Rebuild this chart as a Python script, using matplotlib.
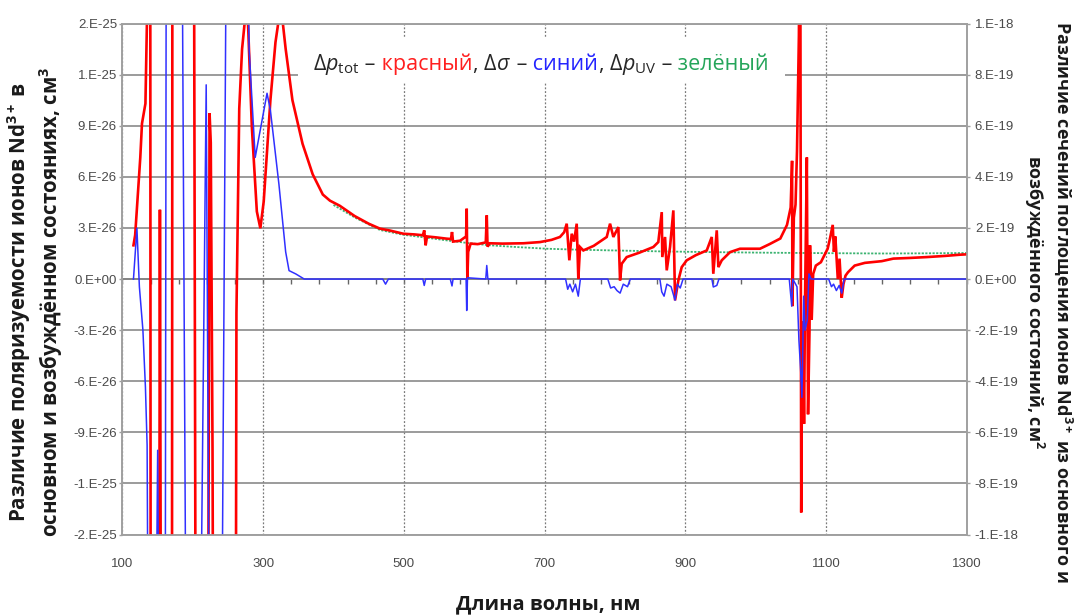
import numpy as np
import matplotlib
matplotlib.use("Agg")
import matplotlib.pyplot as plt
from matplotlib.offsetbox import TextArea, HPacker, AnnotationBbox
from matplotlib.patches import Rectangle

# ---------------- data ----------------
# red: total polarizability difference, units 1e-26 cm^3 (left axis)
red_wl = [115.6, 118, 121.5, 125.3, 127.7, 132.6, 134.8, 136.5, 139, 140.5, 149, 152.5, 153.2, 154.2,
          156.2, 169.8, 171.5, 199.5, 206, 219.5, 223.8, 225.5, 228, 231.5, 259.5, 262, 266, 270,
          274.3, 278.2, 283.9, 291, 296, 300.8, 305.5, 310.3, 317.5, 322.4, 327.2, 332, 341.6, 356,
          370.4, 384.8, 395, 409, 430, 450, 466, 480, 499.3, 515, 527, 529, 531, 533, 545, 561, 567,
          568.5, 570, 580, 588.5, 589.4, 590.3, 591.5, 595, 605, 616.5, 617.9, 619, 622, 640, 670,
          693.6, 710, 722, 728, 731.6, 735.3, 738.7, 742, 745.8, 748.1, 750.5, 755.2, 770, 788.5,
          793.2, 797.9, 805, 807.4, 809.8, 816.9, 835, 854.7, 861.8, 866.7, 867.5, 871.4, 873.8,
          878.5, 883.2, 885.6, 890.3, 895.1, 902.2, 915, 930.7, 937.8, 940, 944.9, 947.2, 952, 963.8,
          978, 1006.4, 1020, 1035.3, 1044.8, 1050, 1052, 1052.5, 1054.5, 1056.9, 1059, 1061.7,
          1063.5, 1065, 1066, 1067.5, 1069, 1070.5, 1073, 1074.7, 1076.8, 1077.5, 1079.9, 1082,
          1085.8, 1093, 1102.6, 1106, 1109.8, 1111.5, 1113.5, 1117, 1119.5, 1122.6, 1125, 1128,
          1131.5, 1141, 1155.5, 1179.5, 1196, 1220, 1243.5, 1270, 1291, 1300]
red_val = [1.98, 2.58, 4.8, 7.14, 9.13, 10.3, 15.2, 60, 60, -60, -60, -14, 4.07, -14,
           -60, -60, 60, 60, -60, -60, 9.73, 8.0, -10, -60, -60, -2, 10, 13.5,
           15.3, 15.3, 8.93, 3.97, 2.98, 4.56, 7.54, 10.5, 13.9, 15.3, 15.3, 13.5, 10.5, 7.94,
           6.15, 4.96, 4.6, 4.3, 3.7, 3.25, 2.96, 2.85, 2.66, 2.62, 2.57, 2.86, 1.98, 2.5, 2.45, 2.37, 2.35,
           2.76, 2.2, 2.25, 2.5, 4.13, 0.0, 1.6, 2.08, 2.05, 2.15, 3.74, 1.9, 2.1, 2.08, 2.1,
           2.17, 2.3, 2.47, 2.75, 3.25, 1.1, 2.66, 2.2, 3.25, 0.0, 1.88, 1.68, 1.95, 2.47,
           3.25, 2.47, 3.05, -0.08, 0.9, 1.29, 1.55, 1.88, 2.17, 3.93, 1.29, 2.47, 0.51,
           1.88, 4.03, -1.25, -0.08, 0.7, 1.1, 1.4, 1.68, 2.47, 0.31, 2.86, 0.7, 1.1, 1.58,
           1.78, 1.78, 2.05, 2.38, 3.18, 4.2, 6.94, -1.59, 3.6, 4.37, 7.5, 14.3,
           25, -13.7, -6.35, -2.5, -8.5, -1.0, 7.14, -7.94, -2.98, 1.98, -2.38, 0.3,
           0.79, 0.99, 1.78, 2.4, 3.18, 1.6, 2.5, 0.0, 1.2, -1.1, -0.3, 0.2,
           0.4, 0.79, 0.95, 1.05, 1.2, 1.24, 1.29, 1.36, 1.43, 1.45]

# green: UV contribution, units 1e-26 cm^3 (left axis)
green_wl = [400, 430, 466, 499.3, 528, 561, 590, 622.6, 660, 703, 750, 798, 870, 940, 1006,
            1100, 1180, 1240, 1300]
green_val = [4.35, 3.62, 2.88, 2.6, 2.45, 2.27, 2.12, 1.98, 1.88, 1.78, 1.72, 1.68, 1.62, 1.58,
             1.55, 1.52, 1.5, 1.51, 1.53]

# blue: absorption cross-section difference, units 1e-19 cm^2 (right axis)
blue_wl = [115.6, 120.5, 124, 129, 132.6, 135, 137.3, 146, 150, 153, 160.5, 162.5, 183.5, 191.3,
           209, 219, 224.4, 240, 249, 274.3, 280, 288.7, 297, 305.5, 310.3, 322.4, 332, 336.8,
           346.4, 358.4, 470, 474, 478, 527, 529, 531, 566, 568.5, 570, 588.5, 589.4, 590.5,
           616.5, 617.9, 619.5, 730, 733, 736, 740, 744, 748, 751, 790, 794, 799, 803, 807.5,
           812, 818, 822, 864, 866.7, 870, 874, 880, 885.6, 889, 893, 897, 938, 940, 945, 948,
           1048, 1051.5, 1053, 1059, 1061.7, 1064.2, 1066, 1068.5, 1070.5, 1073.7, 1076, 1079,
           1104, 1108, 1111, 1115, 1119, 1122.6, 1126, 1300]
blue_val = [0.0, 1.99, -0.3, -1.99, -4.23, -6.5, -20, -20, -6.7, -20, -20, 20, 20, -20,
            -20, 7.6, -20, -20, 20, 20, 9.0, 4.76, 6.0, 7.27, 6.6, 3.71, 1.06, 0.33,
            0.2, 0.0, 0.0, -0.2, 0.0, 0.0, -0.25, 0.0, 0.0, -0.27, 0.0, 0.0, -1.23, 0.05,
            0.0, 0.53, 0.0, 0.0, -0.4, -0.2, -0.5, -0.2, -0.67, 0.0, 0.0, -0.35, -0.3, -0.45, -0.55,
            -0.2, -0.3, 0.0, 0.0, -0.5, -0.67, -0.2, -0.3, -0.83, -0.2, -0.35, 0.0, 0.0, -0.31, -0.25, 0.0,
            0.0, -1.06, 0.0, -0.3, -2.38, -3.57, -4.63, -0.67, -2.0, -1.59, 0.2, 0.0,
            0.0, -0.3, -0.2, -0.45, -0.25, -0.55, 0.0, 0.0]

left_ticks = [-15e-26, -12e-26, -9e-26, -6e-26, -3e-26, 0, 3e-26, 6e-26, 9e-26, 12e-26, 15e-26]
left_tick_labels = ["-2.E-25", "-1.E-25", "-9.E-26", "-6.E-26", "-3.E-26", "0.E+00",
                    "3.E-26", "6.E-26", "9.E-26", "1.E-25", "2.E-25"]
right_ticks = [-10e-19, -8e-19, -6e-19, -4e-19, -2e-19, 0, 2e-19, 4e-19, 6e-19, 8e-19, 10e-19]
right_tick_labels = ["-1.E-18", "-8.E-19", "-6.E-19", "-4.E-19", "-2.E-19", "0.E+00",
                     "2.E-19", "4.E-19", "6.E-19", "8.E-19", "1.E-18"]
x_ticks = [100, 300, 500, 700, 900, 1100, 1300]
x_tick_labels = ["100", "300", "500", "700", "900", "1100", "1300"]

title_parts = [
    (r"$\mathit{Δp}_{\mathrm{tot}}$", "#262626"),
    (" –", "#262626"),
    (" красный", "#ff1f1f"),
    (",", "#262626"),
    (r" $\mathit{Δσ}$", "#262626"),
    (" –", "#262626"),
    (" синий", "#2424ff"),
    (",", "#262626"),
    (r" $\mathit{Δp}_{\mathrm{UV}}$", "#262626"),
    (" –", "#262626"),
    (" зелёный", "#25a55a"),
]

# ---------------- style ----------------
plt.rcParams['mathtext.fontset'] = 'custom'
plt.rcParams['mathtext.rm'] = 'Open Sans'
plt.rcParams['mathtext.it'] = 'Open Sans:italic'
plt.rcParams['mathtext.bf'] = 'Open Sans:bold'
plt.rcParams['mathtext.default'] = 'regular'

tick_family = ['Liberation Sans Narrow', 'Liberation Sans', 'DejaVu Sans']
grid_col = '#8a8a8a'
spine_col = '#a0a0a0'
tick_col = '#4a4a4a'

fig = plt.figure(figsize=(10.79, 6.16), dpi=100)
ax = fig.add_axes([0.11353, 0.13214, 0.78221, 0.82971])
ax2 = ax.twinx()

ax.set_xlim(100, 1300)
ax.set_ylim(-1.5e-25, 1.5e-25)
ax2.set_ylim(-1e-18, 1e-18)

# grid
ax.set_axisbelow(True)
ax.yaxis.grid(True, color=grid_col, lw=1.2)
ax.xaxis.grid(True, color='#7a7a7a', lw=0.9, linestyle=(0, (1.5, 1.5)))

# white box behind title
ax.add_patch(Rectangle((0.208, 0.8836), 0.577, 0.09, transform=ax.transAxes,
                       facecolor='white', edgecolor='none', zorder=2.2))

# data
ax.plot(green_wl, np.array(green_val) * 1e-26, color='#3cb371', lw=1.3,
        linestyle=(0, (1.2, 0.8)), zorder=2.4)
ax.plot(red_wl, np.array(red_val) * 1e-26, color='#ff0000', lw=1.9, zorder=2.6,
        solid_joinstyle='miter')
ax2.plot(blue_wl, np.array(blue_val) * 1e-19, color='#3030ff', lw=1.1, zorder=2.5)

# ticks
ax.set_xticks(x_ticks, labels=x_tick_labels)
ax.set_yticks(left_ticks, labels=left_tick_labels)
ax2.set_yticks(right_ticks, labels=right_tick_labels)
ax.tick_params(axis='x', length=0, pad=17, labelsize=9.5, labelcolor=tick_col,
               labelfontfamily=tick_family)
ax.tick_params(axis='y', length=2.5, width=1, color=spine_col, pad=1.5, labelsize=9.5,
               labelcolor=tick_col, labelfontfamily=tick_family)
ax2.tick_params(axis='y', length=2.5, width=1, color=spine_col, pad=3.5, labelsize=9.5,
                labelcolor=tick_col, labelfontfamily=tick_family)

for a in (ax, ax2):
    for s in a.spines.values():
        s.set_color(spine_col)
        s.set_linewidth(1.2)

# zero-line axis with small ticks
sec = ax.secondary_xaxis(0.5)
sec.set_alignment('bottom')
sec.set_xticks(np.arange(100, 1301, 40))
sec.tick_params(axis='x', direction='out', length=3.5, width=1, color='#666666',
                labelbottom=False, labeltop=False)
sec.spines['bottom'].set_color('#6a6a6a')
sec.spines['bottom'].set_linewidth(1.3)

# title with coloured words
children = [TextArea(t, textprops=dict(color=c, fontsize=15.5, family='Open Sans'))
            for t, c in title_parts]
pack = HPacker(children=children, align='baseline', pad=0, sep=0)
ab = AnnotationBbox(pack, (0.5014, 0.8945), xycoords='figure fraction',
                    frameon=False, box_alignment=(0.5, 0.5), zorder=10)
ax2.add_artist(ab)

# axis titles
fig.text(0.0325, 0.51,
         "Различие поляризуемости ионов Nd$^{3+}$ в\nосновном и возбуждённом состояниях, см$^3$",
         rotation=90, fontsize=14.8, fontweight='bold', family='Open Sans', color='#1a1a1a',
         ha='center', va='center', multialignment='center', linespacing=1.17)
fig.text(0.9713, 0.5097,
         "Различие сечений поглощения ионов Nd$^{3+}$ из основного и\nвозбуждённого состояний, см$^2$",
         rotation=270, fontsize=13.0, fontweight='bold', family='Open Sans', color='#1a1a1a',
         ha='center', va='center', multialignment='center', linespacing=1.33)
fig.text(0.508, 0.0195, "Длина волны, нм", fontsize=14.5, fontweight='bold',
         family='Open Sans', color='#1a1a1a', ha='center', va='center')

fig.savefig('out.png', dpi=100)
